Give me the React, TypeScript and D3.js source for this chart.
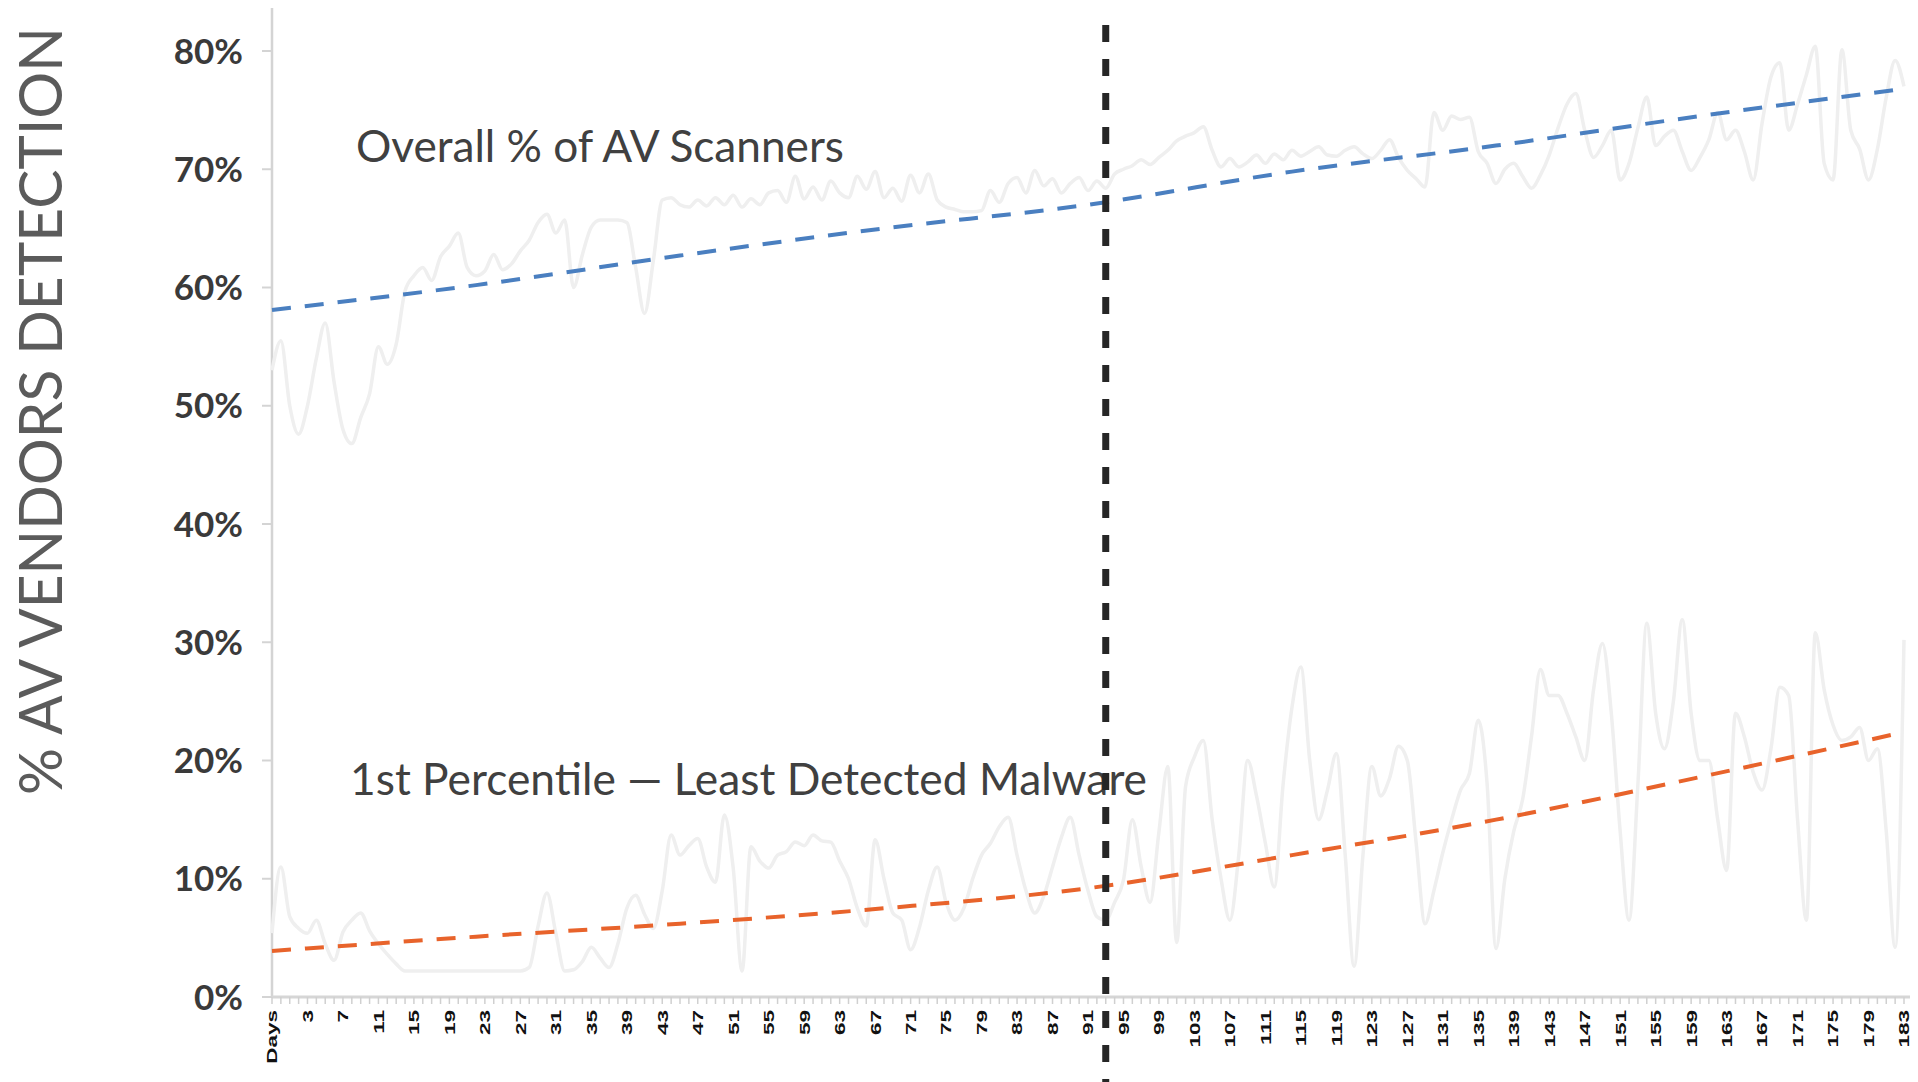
import React from "react";
import * as d3 from "d3";

const W = 1918;
const H = 1082;

// categories: header cell "Days" followed by day numbers 0..183
const categories: string[] = ["Days", ...d3.range(0, 184).map((d) => String(d))];

const xTickLabels = ["Days","3","7","11","15","19","23","27","31","35","39","43","47","51","55","59","63","67","71","75","79","83","87","91","95","99","103","107","111","115","119","123","127","131","135","139","143","147","151","155","159","163","167","171","175","179","183"];

const yTicks = [0, 10, 20, 30, 40, 50, 60, 70, 80];

// Overall % of AV scanners detecting (faint grey series)
const overallPct = [
  53, 55.5, 50, 47.6, 50, 54, 57, 52, 48, 46.8,
  49, 51, 55, 53.5, 55.2, 59.7, 61, 61.7, 60.6, 62.6,
  63.5, 64.6, 61.7, 61, 61.4, 62.8, 61.5, 62, 63.1, 64,
  65.5, 66.2, 64.6, 65.7, 60, 62.8, 65.1, 65.7, 65.7, 65.7,
  65.5, 61.7, 57.8, 62.3, 67.4, 67.6, 67, 66.8, 67.4, 66.9,
  67.6, 67, 67.8, 66.8, 67.5, 67, 68, 68.2, 67.2, 69.4,
  67.5, 68.5, 67.4, 69, 68, 67.6, 69.4, 68.3, 69.8, 67.6,
  68.4, 67.3, 69.5, 68, 69.6, 67.4, 66.8, 66.6, 66.4, 66.4,
  66.5, 68.2, 67.2, 68.8, 69.3, 68, 69.9, 68.6, 69.2, 68,
  68.8, 69.3, 68.2, 69, 68.4, 69.6, 70, 70.3, 70.8, 70.4,
  71, 71.6, 72.4, 72.8, 73.1, 73.6, 71.6, 70.2, 70.9, 70.2,
  70.6, 71.2, 70.5, 71.3, 70.8, 71.6, 71.1, 71.5, 71.9, 71.2,
  71.1, 71.6, 71.9, 71.3, 70.9, 71.6, 72.5, 71, 69.9, 69.2,
  68.5, 74.8, 73.3, 74.5, 74.2, 74.4, 71.5, 70.5, 68.8, 70,
  70.5, 69.4, 68.4, 69.5, 71.2, 73.5, 75.5, 76.4, 73.3, 71,
  72, 73.3, 69.1, 70.5, 73.5, 76.1, 72, 72.8, 73.3, 71.5,
  69.9, 71, 72.5, 74.8, 72.5, 73.3, 71.5, 69.1, 73.9, 77.8,
  79, 73.3, 75.5, 78, 80.4, 70.5, 69.1, 80.1, 73.3, 71.7,
  69.1, 71.7, 76.1, 79.2, 77,
];

// 1st percentile - least detected malware (faint grey series)
const leastPct = [
  5.4, 11, 6.8, 5.8, 5.4, 6.5, 4.5, 3.1, 5.5, 6.5,
  7.1, 5.6, 4.5, 3.6, 2.8, 2.2, 2.2, 2.2, 2.2, 2.2,
  2.2, 2.2, 2.2, 2.2, 2.2, 2.2, 2.2, 2.2, 2.2, 2.5,
  6, 8.8, 5.4, 2.2, 2.3, 3, 4.2, 3.3, 2.5, 4.5,
  7.5, 8.6, 7, 5.8, 9, 13.7, 12, 12.8, 13.4, 11,
  9.7, 15.4, 10.9, 2.2, 12.7, 11.5, 10.9, 12, 12.3, 13.1,
  12.8, 13.7, 13.2, 13.1, 11.5, 10, 7.5, 6, 13.3, 10,
  7.1, 6.5, 4, 5.9, 9, 11, 8, 6.5, 7.5, 10,
  12, 13, 14.4, 15.2, 12, 9, 7.1, 8.5, 11, 13.5,
  15.2, 12, 9, 6.8, 6.5, 8, 9.9, 15, 11, 8,
  14, 19.5, 4.6, 17.8, 20.3, 21.7, 15, 10, 6.5, 12,
  20, 17, 13, 9.3, 18, 24.5, 27.9, 20, 15, 17.5,
  20.6, 12, 2.6, 12, 19.5, 17, 18.5, 21.2, 20, 13,
  6.2, 9, 12.2, 15, 17.5, 18.9, 23.4, 18, 4.1, 10,
  14, 16.7, 22, 27.7, 25.5, 25.5, 24, 22, 20, 26,
  29.9, 24, 14, 6.5, 18, 31.6, 24, 21, 25, 31.9,
  24, 20, 20, 15, 10.7, 24, 22, 19, 17.5, 21,
  26.2, 25.5, 15, 6.5, 30.8, 26, 23, 21.7, 22, 22.8,
  20, 21, 14, 4.2, 30.2,
];

// trend lines, read at sample categories
const trendCats = ["Days", "22", "45", "68", "91", "114", "137", "160", "183"];
const overallTrend = [58.1, 60.2, 62.7, 65.0, 67.0, 69.8, 72.0, 74.5, 76.8];
const leastTrend = [3.9, 5.1, 6.2, 7.5, 9.2, 12.0, 15.0, 18.6, 22.4];

const markerDay = "93";

const FONT = "Lato, 'Open Sans', sans-serif";

export default function App() {
  const x = d3.scalePoint<string>().domain(categories).range([272, 1904]);
  const y = d3.scaleLinear().domain([0, 80]).range([997, 51]);

  const greyLine = d3
    .line<number>()
    .x((_, i) => x(categories[i]) as number)
    .y((d) => y(d))
    .curve(d3.curveMonotoneX);

  const trendLine = d3
    .line<number>()
    .x((_, i) => x(trendCats[i]) as number)
    .y((d) => y(d))
    .curve(d3.curveMonotoneX);

  const mx = x(markerDay) as number;

  return (
    <svg
      width={W}
      height={H}
      style={{ position: "absolute", left: 0, top: 0, background: "#fff" }}
      fontFamily={FONT}
    >
      <rect x={0} y={0} width={W} height={H} fill="#fff" />

      {/* y axis title */}
      <text
        transform={`translate(62, 411) rotate(-90)`}
        textAnchor="middle"
        fontSize={60}
        fill="#5b5b5b"
        textLength={768}
        lengthAdjust="spacingAndGlyphs"
      >
        % AV VENDORS DETECTION
      </text>

      {/* y axis */}
      <line x1={272} x2={272} y1={8} y2={997} stroke="#d4d4d4" strokeWidth={2.5} />
      {yTicks.map((t) => (
        <g key={t}>
          <line x1={262} x2={272} y1={y(t)} y2={y(t)} stroke="#d4d4d4" strokeWidth={2} />
          <text
            x={243}
            y={y(t)}
            dy="0.36em"
            textAnchor="end"
            fontSize={35}
            fontWeight={700}
            fill="#3a3a3a"
          >
            {t}%
          </text>
        </g>
      ))}

      {/* x axis */}
      <line x1={272} x2={1910} y1={997} y2={997} stroke="#d6d6d6" strokeWidth={3} />
      {categories.map((c) => (
        <line
          key={c}
          x1={x(c) as number}
          x2={x(c) as number}
          y1={997}
          y2={1004}
          stroke="#d0d0d0"
          strokeWidth={1.5}
        />
      ))}
      {xTickLabels.map((c) => (
        <text
          key={c}
          transform={`translate(${x(c)}, 1010) rotate(-90) scale(1.5, 1)`}
          textAnchor="end"
          dy="0.36em"
          fontFamily="'Liberation Sans', Arial, sans-serif"
          fontWeight={700}
          fontSize={15}
          fill="#111"
        >
          {c}
        </text>
      ))}

      {/* faint grey data series */}
      <path d={greyLine(overallPct) || ""} fill="none" stroke="#efefef" strokeWidth={3.5} strokeLinejoin="round" />
      <path d={greyLine(leastPct) || ""} fill="none" stroke="#efefef" strokeWidth={3.5} strokeLinejoin="round" />

      {/* annotations */}
      <text x={356} y={162} fontSize={44} fill="#404040" textLength={488} lengthAdjust="spacingAndGlyphs">
        Overall % of AV Scanners
      </text>
      <text x={350} y={795} fontSize={44} fill="#404040" textLength={797} lengthAdjust="spacingAndGlyphs">
        1st Percentile — Least Detected Malware
      </text>

      {/* trend lines */}
      <path
        d={trendLine(overallTrend) || ""}
        fill="none"
        stroke="#4a7fc0"
        strokeWidth={4}
        strokeDasharray="19 14"
      />
      <path
        d={trendLine(leastTrend) || ""}
        fill="none"
        stroke="#e8632b"
        strokeWidth={4}
        strokeDasharray="19 14"
      />

      {/* vertical marker */}
      <line
        x1={mx}
        x2={mx}
        y1={25}
        y2={H}
        stroke="#262626"
        strokeWidth={7}
        strokeDasharray="17 17"
      />
    </svg>
  );
}
